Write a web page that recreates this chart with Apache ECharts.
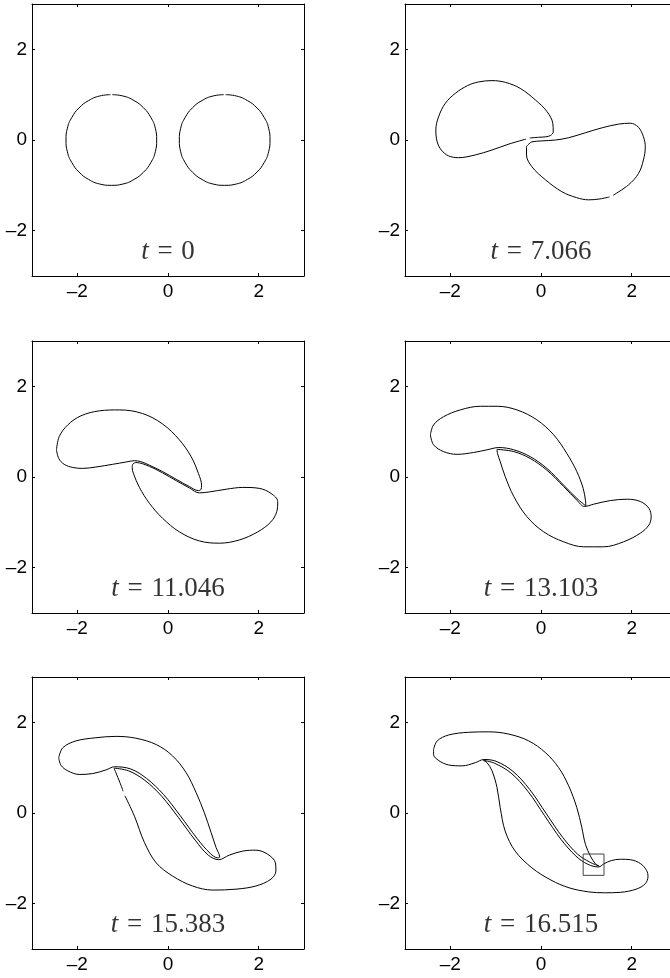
<!DOCTYPE html>
<html>
<head>
<meta charset="utf-8">
<script src="https://cdn.jsdelivr.net/npm/echarts@6/dist/echarts.min.js"></script>
<style>
  html, body { margin: 0; padding: 0; background: #fff; }
  #chart { width: 670px; height: 978px; }
</style>
</head>
<body>
<div id="chart"></div>
<script>
// time stamps shown in each panel
const times = ['0', '7.066', '11.046', '13.103', '15.383', '16.515']
const tickValues = [-2, 0, 2]

// t = 0 : two round patches (small gap at the top where the contour starts)
const t0Left = [[-1.27, 1.0], [-1.51, 0.97], [-1.75, 0.87], [-1.96, 0.71], [-2.12, 0.5], [-2.22, 0.26], [-2.25, 0], [-2.22, -0.26], [-2.12, -0.5], [-1.96, -0.71], [-1.75, -0.87], [-1.51, -0.97], [-1.25, -1.0], [-0.99, -0.97], [-0.75, -0.87], [-0.54, -0.71], [-0.38, -0.5], [-0.28, -0.26], [-0.25, 0], [-0.28, 0.26], [-0.38, 0.5], [-0.54, 0.71], [-0.75, 0.87], [-0.99, 0.97], [-1.23, 1.0]]
const t0Right = [[1.27, 1.0], [1.51, 0.97], [1.75, 0.87], [1.96, 0.71], [2.12, 0.5], [2.22, 0.26], [2.25, 0], [2.22, -0.26], [2.12, -0.5], [1.96, -0.71], [1.75, -0.87], [1.51, -0.97], [1.25, -1.0], [0.99, -0.97], [0.75, -0.87], [0.54, -0.71], [0.38, -0.5], [0.28, -0.26], [0.25, 0], [0.28, 0.26], [0.38, 0.5], [0.54, 0.71], [0.75, 0.87], [0.99, 0.97], [1.23, 1.0]]

// t = 7.066
const t7Upper = [[-0.25, 0.045], [-0.05, 0.06], [0.10, 0.07], [0.21, 0.10], [0.27, 0.18], [0.26, 0.37], [0.13, 0.63], [-0.12, 0.88], [-0.46, 1.14], [-0.78, 1.27], [-1.08, 1.31], [-1.38, 1.28], [-1.62, 1.20], [-1.89, 1.03], [-2.11, 0.81], [-2.26, 0.51], [-2.32, 0.22], [-2.29, -0.04], [-2.20, -0.22], [-2.04, -0.35], [-1.82, -0.39], [-1.45, -0.33], [-1.08, -0.22], [-0.71, -0.09], [-0.33, 0.02]]
const t7Lower = [[1.51, -1.255], [1.30, -1.30], [1.05, -1.32], [0.78, -1.27], [0.46, -1.14], [0.10, -0.88], [-0.20, -0.59], [-0.32, -0.33], [-0.32, -0.16], [-0.27, -0.09], [-0.20, -0.04], [0.02, -0.02], [0.32, 0.0], [0.61, 0.05], [0.98, 0.16], [1.35, 0.27], [1.71, 0.35], [1.97, 0.37], [2.15, 0.28], [2.26, 0.07], [2.30, -0.15], [2.26, -0.44], [2.15, -0.74], [1.93, -0.99], [1.59, -1.22]]

// t = 11.046
const t11Upper = [[-2.46, 0.60], [-2.40, 0.89], [-2.21, 1.15], [-1.92, 1.35], [-1.51, 1.46], [-1.07, 1.48], [-0.56, 1.40], [-0.12, 1.17], [0.25, 0.82], [0.51, 0.45], [0.67, 0.08], [0.74, -0.18], [0.73, -0.27], [0.67, -0.30], [0.47, -0.21], [0.18, -0.05], [-0.12, 0.12], [-0.41, 0.26], [-0.60, 0.34], [-0.74, 0.36], [-0.93, 0.33], [-1.22, 0.28], [-1.59, 0.22], [-1.88, 0.19], [-2.10, 0.21], [-2.29, 0.28], [-2.41, 0.41], [-2.46, 0.60]]
const t11Lower = [[-0.78, 0.28], [-0.71, 0.32], [-0.41, 0.235], [-0.12, 0.09], [0.18, -0.08], [0.47, -0.24], [0.69, -0.35], [0.91, -0.33], [1.28, -0.27], [1.65, -0.23], [2.01, -0.25], [2.27, -0.36], [2.42, -0.54], [2.40, -0.76], [2.27, -0.99], [1.98, -1.21], [1.57, -1.39], [1.13, -1.46], [0.69, -1.41], [0.25, -1.21], [-0.12, -0.91], [-0.41, -0.58], [-0.63, -0.23], [-0.76, 0.07], [-0.79, 0.21], [-0.78, 0.28]]

// t = 13.103
const t13Upper = [[-2.44, 0.93], [-2.37, 1.15], [-2.15, 1.33], [-1.78, 1.48], [-1.34, 1.56], [-0.97, 1.56], [-0.53, 1.48], [-0.09, 1.26], [0.28, 0.93], [0.57, 0.52], [0.79, 0.12], [0.93, -0.25], [0.98, -0.51], [0.99, -0.64], [0.79, -0.47], [0.50, -0.18], [0.13, 0.19], [-0.24, 0.45], [-0.60, 0.60], [-0.93, 0.65], [-1.19, 0.60], [-1.49, 0.54], [-1.85, 0.50], [-2.15, 0.56], [-2.37, 0.71], [-2.44, 0.93]]
const t13Lower = [[-0.97, 0.61], [-0.60, 0.56], [-0.24, 0.41], [0.13, 0.15], [0.50, -0.21], [0.79, -0.51], [0.96, -0.65], [1.16, -0.60], [1.53, -0.52], [1.90, -0.49], [2.19, -0.54], [2.38, -0.69], [2.43, -0.88], [2.38, -1.06], [2.19, -1.24], [1.82, -1.43], [1.38, -1.54], [0.94, -1.54], [0.50, -1.43], [0.06, -1.21], [-0.31, -0.875], [-0.60, -0.43], [-0.79, 0.01], [-0.90, 0.34], [-0.96, 0.52], [-0.97, 0.61]]

// t = 15.383
const t15Upper = [[-2.41, 1.22], [-2.32, 1.44], [-2.03, 1.59], [-1.59, 1.66], [-1.15, 1.69], [-0.71, 1.65], [-0.26, 1.51], [0.10, 1.26], [0.40, 0.89], [0.62, 0.45], [0.80, 0.01], [0.95, -0.43], [1.06, -0.76], [1.14, -0.97], [1.10, -0.99], [0.93, -0.89], [0.64, -0.56], [0.27, -0.06], [-0.10, 0.41], [-0.47, 0.76], [-0.82, 0.97], [-1.18, 1.02], [-1.37, 0.95], [-1.66, 0.87], [-1.96, 0.85], [-2.21, 0.93], [-2.36, 1.05], [-2.41, 1.22]]
const t15Lower = [[-0.95, 0.38], [-0.74, -0.07], [-0.52, -0.65], [-0.26, -1.10], [0.10, -1.39], [0.54, -1.61], [0.99, -1.70], [1.50, -1.68], [1.94, -1.61], [2.27, -1.46], [2.38, -1.28], [2.37, -1.10], [2.20, -0.91], [1.94, -0.82], [1.65, -0.84], [1.35, -0.93], [1.12, -1.03], [0.89, -0.93], [0.60, -0.60], [0.23, -0.10], [-0.14, 0.37], [-0.51, 0.72], [-0.87, 0.93], [-1.19, 0.99], [-1.15, 0.89], [-1.06, 0.67], [-0.99, 0.48]]

// t = 16.515
const t16Upper = [[-2.37, 1.40], [-2.29, 1.59], [-2.04, 1.72], [-1.60, 1.78], [-1.15, 1.79], [-0.71, 1.74], [-0.27, 1.59], [0.10, 1.33], [0.39, 1.00], [0.61, 0.60], [0.79, 0.12], [0.90, -0.32], [0.98, -0.69], [1.09, -0.95], [1.20, -1.12], [1.28, -1.17], [1.07, -1.08], [0.81, -0.91], [0.48, -0.54], [0.12, -0.02], [-0.25, 0.52], [-0.62, 0.92], [-0.99, 1.14], [-1.26, 1.18], [-1.45, 1.11], [-1.74, 1.04], [-2.04, 1.06], [-2.26, 1.16], [-2.37, 1.29], [-2.37, 1.40]]
const t16Lower = [[-1.27, 1.16], [-1.03, 1.10], [-0.66, 0.88], [-0.29, 0.48], [0.08, -0.06], [0.44, -0.58], [0.77, -0.95], [1.03, -1.13], [1.27, -1.19], [1.39, -1.12], [1.55, -1.05], [1.75, -1.02], [1.97, -1.03], [2.20, -1.12], [2.33, -1.27], [2.36, -1.40], [2.30, -1.56], [2.10, -1.68], [1.75, -1.75], [1.40, -1.76], [1.05, -1.74], [0.62, -1.65], [0.22, -1.48], [-0.20, -1.21], [-0.57, -0.84], [-0.79, -0.40], [-0.90, 0.12], [-0.97, 0.56], [-1.08, 0.93], [-1.19, 1.11], [-1.27, 1.16]]
const t16Box = [[0.93, -0.905], [1.39, -0.905], [1.39, -1.375], [0.93, -1.375], [0.93, -0.905]]

const labelPos = [0, -2.47]

const panels = [
  [t0Left, t0Right],
  [t7Upper, t7Lower],
  [t11Upper, t11Lower],
  [t13Upper, t13Lower],
  [t15Upper, t15Lower],
  [t16Upper, t16Lower]
]

const colLeft = [32, 405]
const rowTop = [4, 341, 677]

const chart = echarts.init(document.getElementById('chart'))

function makeAxis(gridIndex, position, withLabels) {
  return {
    type: 'value',
    gridIndex: gridIndex,
    position: position,
    min: -3,
    max: 3,
    axisLine: { show: true, onZero: false, lineStyle: { color: '#000', width: 1 } },
    axisTick: { show: true, inside: true, length: 3, customValues: tickValues, lineStyle: { color: '#000' } },
    axisLabel: {
      show: withLabels,
      customValues: tickValues,
      margin: position === 'bottom' ? 6 : 5,
      color: '#000',
      fontSize: 19,
      fontFamily: 'Liberation Sans',
      formatter: v => (v < 0 ? '\u2013' + (-v) : String(v))
    },
    splitLine: { show: false }
  }
}

const serif = 'Liberation Serif'

const grids = []
const xAxes = []
const yAxes = []
const series = []

panels.forEach((curves, i) => {
  grids.push({
    left: colLeft[i % 2],
    top: rowTop[Math.floor(i / 2)],
    width: 272,
    height: 272,
    outerBoundsMode: 'none'
  })
  xAxes.push(makeAxis(i, 'bottom', true), makeAxis(i, 'top', false))
  yAxes.push(makeAxis(i, 'left', true), makeAxis(i, 'right', false))
  curves.forEach(c => {
    series.push({
      type: 'line',
      xAxisIndex: 2 * i,
      yAxisIndex: 2 * i,
      data: c,
      smooth: i === 0 ? 0.5 : 0.35,
      symbol: 'none',
      silent: true,
      lineStyle: { color: '#000', width: 1 }
    })
  })
  series.push({
    type: 'scatter',
    xAxisIndex: 2 * i,
    yAxisIndex: 2 * i,
    data: [labelPos],
    symbolSize: 0,
    silent: true,
    label: {
      show: true,
      position: 'inside',
      formatter: '{t|t} {e|=} {n|' + times[i] + '}',
      fontFamily: serif,
      fontSize: 27,
      rich: {
        t: { fontFamily: serif, fontStyle: 'italic', fontSize: 27, color: '#000' },
        e: { fontFamily: serif, fontSize: 27, color: '#000', padding: [0, 2] },
        n: { fontFamily: serif, fontSize: 27, color: '#000' }
      }
    }
  })
})

// zoom box in the last panel
series.push({
  type: 'line',
  xAxisIndex: 10,
  yAxisIndex: 10,
  data: t16Box,
  symbol: 'none',
  silent: true,
  lineStyle: { color: '#444', width: 1 }
})

chart.setOption({
  animation: false,
  grid: grids,
  xAxis: xAxes,
  yAxis: yAxes,
  series: series
})
</script>
</body>
</html>
